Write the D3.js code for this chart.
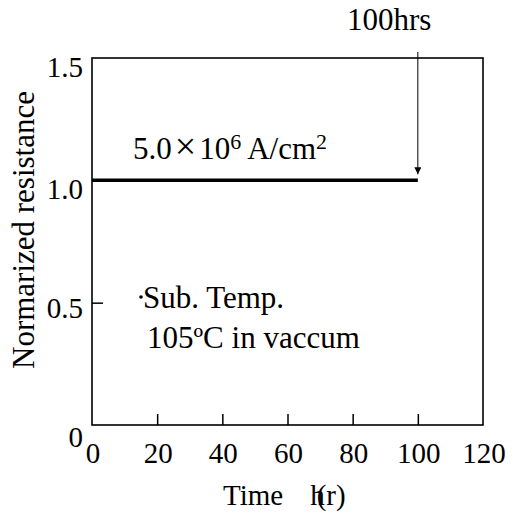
<!DOCTYPE html>
<html>
<head>
<meta charset="utf-8">
<script src="https://cdn.jsdelivr.net/npm/d3@7"></script>
<style>
  body { margin: 0; background: #fff; }
  svg text { font-family: "Liberation Serif", "Times New Roman", serif; fill: #000; }
</style>
</head>
<body>
<svg class="chart"></svg>
<script>
// data
var timeHrs = [0, 10, 20, 30, 40, 50, 60, 70, 80, 90, 100];
var resistance = [1.0, 1.0, 1.0, 1.0, 1.0, 1.0, 1.0, 1.0, 1.0, 1.0, 1.0];
var xTicks = [0, 20, 40, 60, 80, 100, 120];
var yTicks = [0, 0.5, 1.0, 1.5];
var yTickLabels = ['0', '0.5', '1.0', '1.5'];

var width = 513, height = 520;
var margin = { top: 58, right: 30, bottom: 95, left: 92 };

var svg = d3.select('svg.chart')
  .attr('width', width)
  .attr('height', height);

var x = d3.scaleLinear().domain([0, 120]).range([margin.left, width - margin.right]);
var y = d3.scaleLinear().domain([0, 1.5]).range([height - margin.bottom, margin.top]);

// frame
svg.append('rect')
  .attr('x', x(0)).attr('y', y(1.5))
  .attr('width', x(120) - x(0)).attr('height', y(0) - y(1.5))
  .attr('fill', 'none').attr('stroke', '#000').attr('stroke-width', 1.6);

// inward ticks
var xAxis = d3.axisTop(x).tickValues(xTicks.slice(1, -1)).tickSize(11).tickFormat('');
svg.append('g').attr('transform', 'translate(0,' + y(0) + ')').call(xAxis)
  .call(function (g) { g.select('.domain').remove(); })
  .selectAll('line').attr('stroke-width', 1.5);

var yAxis = d3.axisRight(y).tickValues([0.5, 1.0]).tickSize(11).tickFormat('');
svg.append('g').attr('transform', 'translate(' + x(0) + ',0)').call(yAxis)
  .call(function (g) { g.select('.domain').remove(); })
  .selectAll('line').attr('stroke-width', 1.5);

// tick labels
svg.selectAll('text.xlab').data(xTicks).enter().append('text')
  .attr('class', 'xlab')
  .attr('x', function (d) { return x(d) + 1; })
  .attr('y', 463)
  .attr('text-anchor', 'middle')
  .attr('font-size', 29)
  .text(function (d) { return d; });

svg.selectAll('text.ylab').data(yTicks).enter().append('text')
  .attr('class', 'ylab')
  .attr('x', 83)
  .attr('y', function (d) { return d === 0 ? y(d) + 22 : (d === 0.5 ? y(d) + 15 : y(d) + 19); })
  .attr('text-anchor', 'end')
  .attr('font-size', 29)
  .text(function (d, i) { return yTickLabels[i]; });

// axis titles
svg.append('text')
  .attr('transform', 'translate(34,230) rotate(-90)')
  .attr('text-anchor', 'middle')
  .attr('font-size', 31)
  .text('Normarized resistance');

var xt = svg.append('text')
  .attr('x', 223).attr('y', 505)
  .attr('font-size', 29);
xt.append('tspan').text('Time');
xt.append('tspan').attr('dx', 27).text('h');
xt.append('tspan').attr('dx', -8).text('(r)');

// data line
var line = d3.line()
  .x(function (d) { return x(d[0]); })
  .y(function (d) { return y(d[1]); });

svg.append('path')
  .datum(d3.zip(timeHrs, resistance))
  .attr('d', line)
  .attr('fill', 'none')
  .attr('stroke', '#000')
  .attr('stroke-width', 3.5);

// annotations
var cur = svg.append('text')
  .attr('x', 133).attr('y', 159)
  .attr('font-size', 31);
cur.append('tspan').text('5.0');
cur.append('tspan').attr('dx', 3).attr('font-size', 38).text('\u00d7');
cur.append('tspan').attr('dx', 3).text('10');
cur.append('tspan').attr('font-size', 22).attr('dy', -10).text('6');
cur.append('tspan').attr('dy', 10).text(' A/cm');
cur.append('tspan').attr('font-size', 22).attr('dy', -10).text('2');

svg.append('text')
  .attr('x', 347).attr('y', 30)
  .attr('font-size', 31)
  .text('100hrs');

svg.append('defs').append('marker')
  .attr('id', 'arrow')
  .attr('viewBox', '0 0 10 10')
  .attr('refX', 10).attr('refY', 5)
  .attr('markerWidth', 8).attr('markerHeight', 7)
  .attr('markerUnits', 'userSpaceOnUse')
  .attr('orient', 'auto')
  .append('path').attr('d', 'M0,0L10,5L0,10Z').attr('fill', '#000');

svg.append('line')
  .attr('x1', x(100)).attr('x2', x(100))
  .attr('y1', 52).attr('y2', y(1.0) - 6)
  .attr('stroke', '#000').attr('stroke-width', 1)
  .attr('marker-end', 'url(#arrow)');

svg.append('circle')
  .attr('cx', 141).attr('cy', 297).attr('r', 1.8).attr('fill', '#000');

svg.append('text')
  .attr('x', 143).attr('y', 308)
  .attr('font-size', 31)
  .text('Sub. Temp.');

svg.append('text')
  .attr('x', 147).attr('y', 348)
  .attr('font-size', 31)
  .text('105\u00baC in vaccum');
</script>
</body>
</html>
